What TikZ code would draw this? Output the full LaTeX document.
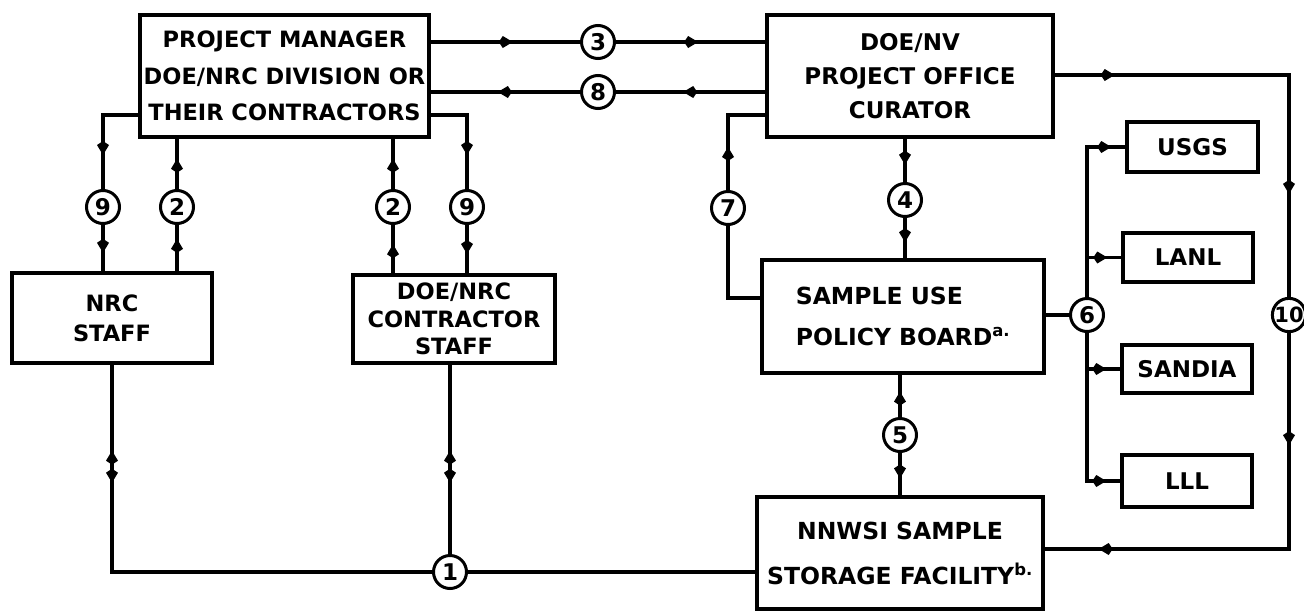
\documentclass[tikz,border=0pt]{standalone}
\usepackage{fontspec}
\setmainfont{DejaVu Sans}
\usetikzlibrary{arrows.meta,decorations.markings}
\tikzset{myarr/.tip={Kite[length=14pt,width=12pt,inset=4pt]}}
\begin{document}
\begin{tikzpicture}[x=1pt,y=-1pt,
  box/.style={draw,line width=3.4pt,rectangle,inner sep=0pt,align=center},
  bf/.style 2 args={font=\bfseries\fontsize{#1}{#2}\selectfont},
  num/.style={draw,circle,line width=3pt,inner sep=0pt,minimum size=33pt,font=\bfseries\fontsize{23}{23}\selectfont},
  conn/.style={line width=3.4pt},
  arr/.style={postaction={decorate,decoration={markings,mark=at position #1 with {\arrow{myarr}}}}},
  dblarr/.style={postaction={decorate,decoration={markings,
    mark=at position 86pt with {\arrowreversed{myarr}},
    mark=at position 118pt with {\arrow{myarr}}}}},
]
\useasboundingbox (0,0) rectangle (1304,611);

% boxes
\node[box,bf={22.5}{36.5},minimum width=289pt,minimum height=122pt] (pm) at (284.5,76) {PROJECT MANAGER\\DOE/NRC DIVISION OR\\THEIR CONTRACTORS};
\node[box,bf={23}{34},minimum width=286pt,minimum height=122pt] (doenv) at (910,76) {DOE/NV\\PROJECT OFFICE\\CURATOR};
\node[box,bf={22.5}{30},minimum width=200pt,minimum height=90pt] (nrc) at (112,318) {NRC\\STAFF};
\node[box,bf={22.5}{27.5},minimum width=202pt,minimum height=88pt] (dnc) at (454,319) {DOE/NRC\\CONTRACTOR\\STAFF};
\node[box,bf={23.5}{41},align=left,minimum width=282pt,minimum height=113pt] (supb) at (903,316.5) {SAMPLE USE\\POLICY BOARD\textsuperscript{a.}};
\node[box,bf={23.5}{45},minimum width=286pt,minimum height=112pt] (nnwsi) at (900,553) {NNWSI SAMPLE\\STORAGE FACILITY\textsuperscript{b.}};
\node[box,bf={23}{23},minimum width=131pt,minimum height=50pt] (usgs) at (1192.5,147) {USGS};
\node[box,bf={23}{23},minimum width=130pt,minimum height=49pt] (lanl) at (1188,257.5) {LANL};
\node[box,bf={23}{23},minimum width=130pt,minimum height=48pt] (sandia) at (1187,369) {SANDIA};
\node[box,bf={23}{23},minimum width=130pt,minimum height=52pt] (lll) at (1187,481) {LLL};

% numbered circles
\node[num] (c3) at (598,42) {3};
\node[num] (c8) at (598,92) {8};
\node[num] (c9a) at (103,207) {9};
\node[num] (c2a) at (177,207) {2};
\node[num] (c2b) at (393,207) {2};
\node[num] (c9b) at (467,207) {9};
\node[num] (c7) at (728,208) {7};
\node[num] (c4) at (905,200) {4};
\node[num] (c6) at (1087,315) {6};
\node[num,font=\bfseries\fontsize{21}{21}\selectfont] (c10) at (1289,315) {10};
\node[num] (c5) at (900,435) {5};
\node[num] (c1) at (450,572) {1};

% connectors
\draw[conn,arr=0.55] (pm.east |- c3) -- (c3);
\draw[conn,arr=0.55] (c3) -- (doenv.west |- c3);
\draw[conn,arr=0.55] (doenv.west |- c8) -- (c8);
\draw[conn,arr=0.55] (c8) -- (pm.east |- c8);

\draw[conn,arr=-34pt] (pm.west |- 0,115) -| (c9a);
\draw[conn,arr=0.6] (c2a) -- (c2a |- pm.south);
\draw[conn,arr=0.6] (c2b) -- (c2b |- pm.south);
\draw[conn,arr=-34pt] (pm.east |- 0,115) -| (c9b);

\draw[conn,arr=0.6] (c9a) -- (c9a |- nrc.north);
\draw[conn,arr=0.7] (c2a |- nrc.north) -- (c2a);
\draw[conn,arr=0.6] (c2b |- dnc.north) -- (c2b);
\draw[conn,arr=0.6] (c9b) -- (c9b |- dnc.north);

\draw[conn,dblarr] (nrc.south) |- (c1);
\draw[conn,dblarr] (c1 |- dnc.south) -- (c1);
\draw[conn] (c1) -- (nnwsi.west |- c1);

\draw[conn] (supb.west |- 0,298) -| (c7);
\draw[conn,arr=43pt] (c7) |- (doenv.west |- 0,115);

\draw[conn,arr=0.6] (c4 |- doenv.south) -- (c4);
\draw[conn,arr=0.6] (c4) -- (c4 |- supb.north);

\draw[conn] (supb.east |- c6) -- (c6);
\draw[conn,arr=-14pt] (c6) |- (usgs.west);
\draw[conn,arr=-14pt] (c6) |- (lanl.west);
\draw[conn,arr=-14pt] (c6) |- (sandia.west);
\draw[conn,arr=-14pt] (c6) |- (lll.west);

\draw[conn,postaction={decorate,decoration={markings,
    mark=at position 60pt with {\arrow{myarr}},
    mark=at position -103pt with {\arrow{myarr}}}}]
  (doenv.east |- 0,75) -| (c10);
\draw[conn,postaction={decorate,decoration={markings,
    mark=at position 112pt with {\arrow{myarr}},
    mark=at position -54pt with {\arrow{myarr}}}}]
  (c10) |- (nnwsi.east |- 0,549);

\draw[conn,arr=0.6] (c5) -- (c5 |- supb.south);
\draw[conn,arr=0.6] (c5) -- (c5 |- nnwsi.north);
\end{tikzpicture}
\end{document}
